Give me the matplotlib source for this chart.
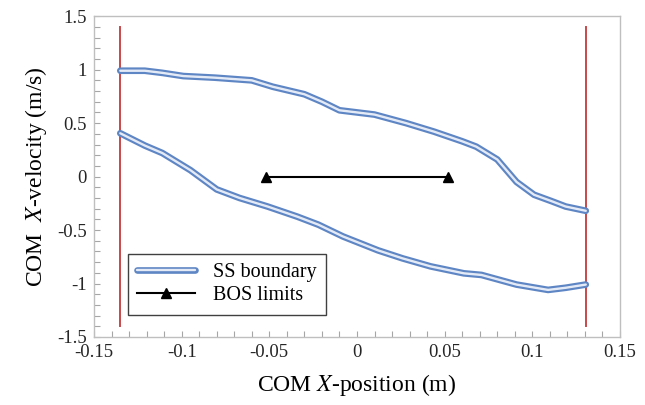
import matplotlib
matplotlib.use('Agg')
from matplotlib import pyplot as plt
from matplotlib import patheffects as pe
from matplotlib.ticker import MultipleLocator, FuncFormatter

plt.rcParams['font.family'] = ['Liberation Serif', 'DejaVu Serif']
plt.rcParams['mathtext.fontset'] = 'stix'

# SS boundary, upper branch
upper_x = [-0.135, -0.121, -0.111, -0.099, -0.081, -0.060, -0.048, -0.030, -0.020,
           -0.010, 0.010, 0.028, 0.044, 0.060, 0.068, 0.080, 0.091, 0.101, 0.111,
           0.119, 0.1305]
upper_y = [0.99, 0.99, 0.97, 0.94, 0.925, 0.90, 0.84, 0.77, 0.70,
           0.62, 0.58, 0.50, 0.42, 0.33, 0.28, 0.16, -0.05, -0.17, -0.23,
           -0.28, -0.32]

# SS boundary, lower branch
lower_x = [-0.135, -0.121, -0.111, -0.095, -0.080, -0.067, -0.051, -0.034, -0.022,
           -0.008, 0.012, 0.026, 0.042, 0.061, 0.071, 0.091, 0.109, 0.119, 0.1305]
lower_y = [0.405, 0.29, 0.22, 0.06, -0.12, -0.20, -0.28, -0.375, -0.45,
           -0.56, -0.69, -0.765, -0.84, -0.905, -0.92, -1.01, -1.06, -1.04, -1.01]

# base of support limits
bos_x = [-0.052, 0.052]
bos_y = [0, 0]

# red vertical lines
wall_x = [-0.1352, 0.1305]
wall_y = [-1.4, 1.4]

fig = plt.figure(figsize=(6.45, 4.05), dpi=100)
ax = fig.add_axes([0.1457, 0.168, 0.8155, 0.792])

for wx in wall_x:
    ax.plot([wx, wx], wall_y, color='#c8474a', lw=1.4, zorder=2)

fx = [pe.Stroke(linewidth=4.8, foreground='#5f86c4'), pe.Normal()]
ax.plot(upper_x, upper_y, color='#e4ebf6', lw=1.7, path_effects=fx,
        solid_joinstyle='round', solid_capstyle='round', label='SS boundary', zorder=3)
ax.plot(lower_x, lower_y, color='#e4ebf6', lw=1.7, path_effects=fx,
        solid_joinstyle='round', solid_capstyle='round', zorder=3)

ax.plot(bos_x, bos_y, color='black', lw=1.5, marker='^', markersize=7,
        label='BOS limits', zorder=4)

ax.set_xlim(-0.15, 0.15)
ax.set_ylim(-1.5, 1.5)
ax.xaxis.set_major_locator(MultipleLocator(0.05))
ax.xaxis.set_minor_locator(MultipleLocator(0.01))
ax.yaxis.set_major_locator(MultipleLocator(0.5))
ax.yaxis.set_minor_locator(MultipleLocator(0.1))
fmt = FuncFormatter(lambda v, p: f'{round(v, 3):g}')
ax.xaxis.set_major_formatter(fmt)
ax.yaxis.set_major_formatter(fmt)

ax.tick_params(which='both', direction='in', color='#a6a6a6', width=0.8,
               labelsize=13.5, labelcolor='#262626')
ax.tick_params(which='major', length=4, pad=5)
ax.tick_params(which='minor', length=4)
for s in ax.spines.values():
    s.set_color('#bfbfbf')
    s.set_linewidth(1.0)

ax.set_xlabel('COM $X$-position (m)', fontsize=17, labelpad=8)
ax.set_ylabel('COM  $X$-velocity (m/s)', fontsize=17, labelpad=6)

leg = ax.legend(loc='lower left', bbox_to_anchor=(0.064, 0.07), fontsize=14.5,
                fancybox=False, framealpha=1, edgecolor='#404040',
                handlelength=2.9, handletextpad=0.9, borderpad=0.45,
                labelspacing=0.2, borderaxespad=0)
leg.get_frame().set_linewidth(1.0)

plt.savefig('out.png', dpi=100)
